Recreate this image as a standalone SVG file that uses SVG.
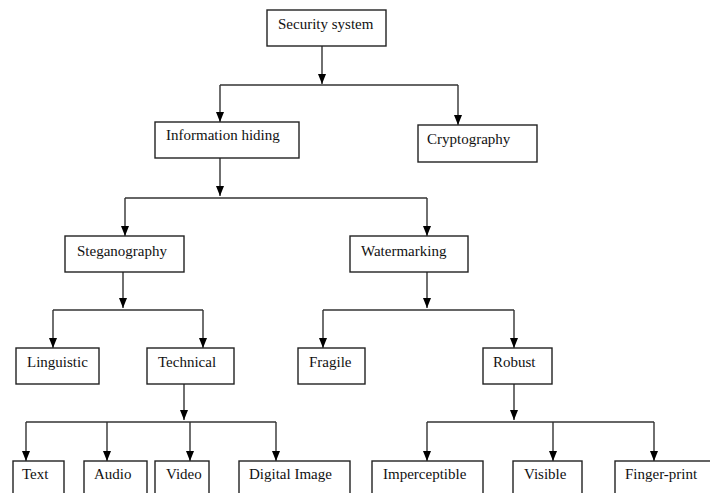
<svg xmlns="http://www.w3.org/2000/svg" width="710" height="493" viewBox="0 0 710 493">
<defs>
<marker id="ah" viewBox="0 0 10 8" refX="10" refY="4" markerWidth="10" markerHeight="8" markerUnits="userSpaceOnUse" orient="auto">
<path d="M0,0 L10,4 L0,8 z" fill="#000"/>
</marker>
<style>
.box{fill:#fff;stroke:#222;stroke-width:1.4}
.lbl{font-family:"Liberation Serif","Times New Roman",serif;font-size:15px;fill:#111}
.ln{fill:none;stroke:#333;stroke-width:1.4}
.ar{fill:none;stroke:#333;stroke-width:1.4;marker-end:url(#ah)}
</style>
</defs>
<rect width="710" height="493" fill="#fff"/>
<g id="connectors">
<path class="ar" d="M322,46 V84"/>
<path class="ln" d="M220,85 H458"/>
<path class="ar" d="M220,85 V122"/>
<path class="ar" d="M458,85 V125"/>
<path class="ar" d="M220,158 V196"/>
<path class="ln" d="M125,198 H427"/>
<path class="ar" d="M125,198 V236"/>
<path class="ar" d="M427,198 V236"/>
<path class="ar" d="M123,272 V308"/>
<path class="ln" d="M53,310 H203"/>
<path class="ar" d="M53,310 V348"/>
<path class="ar" d="M203,310 V348"/>
<path class="ar" d="M427,272 V308"/>
<path class="ln" d="M323,310 H514"/>
<path class="ar" d="M323,310 V348"/>
<path class="ar" d="M514,310 V348"/>
<path class="ar" d="M184,384 V420"/>
<path class="ln" d="M26,422 H276"/>
<path class="ar" d="M26,422 V461"/>
<path class="ar" d="M107,422 V461"/>
<path class="ar" d="M190,422 V461"/>
<path class="ar" d="M276,422 V461"/>
<path class="ar" d="M514,384 V420"/>
<path class="ln" d="M427,422 H654"/>
<path class="ar" d="M427,422 V461"/>
<path class="ar" d="M553,422 V461"/>
<path class="ar" d="M654,422 V461"/>
</g>
<g id="security"><rect class="box" x="267" y="10" width="119" height="36"/><text class="lbl" x="278" y="29">Security system</text></g>
<g id="infohiding"><rect class="box" x="155" y="122" width="144" height="36"/><text class="lbl" x="166" y="140">Information hiding</text></g>
<g id="cryptography"><rect class="box" x="418" y="125" width="119" height="37"/><text class="lbl" x="427" y="144">Cryptography</text></g>
<g id="steganography"><rect class="box" x="65" y="236" width="119" height="36"/><text class="lbl" x="77" y="256">Steganography</text></g>
<g id="watermarking"><rect class="box" x="350" y="236" width="118" height="36"/><text class="lbl" x="361" y="256">Watermarking</text></g>
<g id="linguistic"><rect class="box" x="16" y="348" width="83" height="36"/><text class="lbl" x="27" y="367">Linguistic</text></g>
<g id="technical"><rect class="box" x="147" y="348" width="87" height="36"/><text class="lbl" x="158" y="367">Technical</text></g>
<g id="fragile"><rect class="box" x="298" y="348" width="67" height="36"/><text class="lbl" x="309" y="367">Fragile</text></g>
<g id="robust"><rect class="box" x="483" y="348" width="69" height="36"/><text class="lbl" x="493" y="367">Robust</text></g>
<g id="text"><rect class="box" x="13" y="461" width="51" height="40"/><text class="lbl" x="22" y="479">Text</text></g>
<g id="audio"><rect class="box" x="84" y="461" width="63" height="40"/><text class="lbl" x="94" y="479">Audio</text></g>
<g id="video"><rect class="box" x="155" y="461" width="54" height="40"/><text class="lbl" x="166" y="479">Video</text></g>
<g id="digitalimage"><rect class="box" x="239" y="461" width="111" height="40"/><text class="lbl" x="249" y="479">Digital Image</text></g>
<g id="imperceptible"><rect class="box" x="372" y="461" width="111" height="40"/><text class="lbl" x="383" y="479">Imperceptible</text></g>
<g id="visible"><rect class="box" x="513" y="461" width="69" height="40"/><text class="lbl" x="524" y="479">Visible</text></g>
<g id="fingerprint"><rect class="box" x="615" y="461" width="100" height="40"/><text class="lbl" x="625" y="479">Finger-print</text></g>
</svg>
